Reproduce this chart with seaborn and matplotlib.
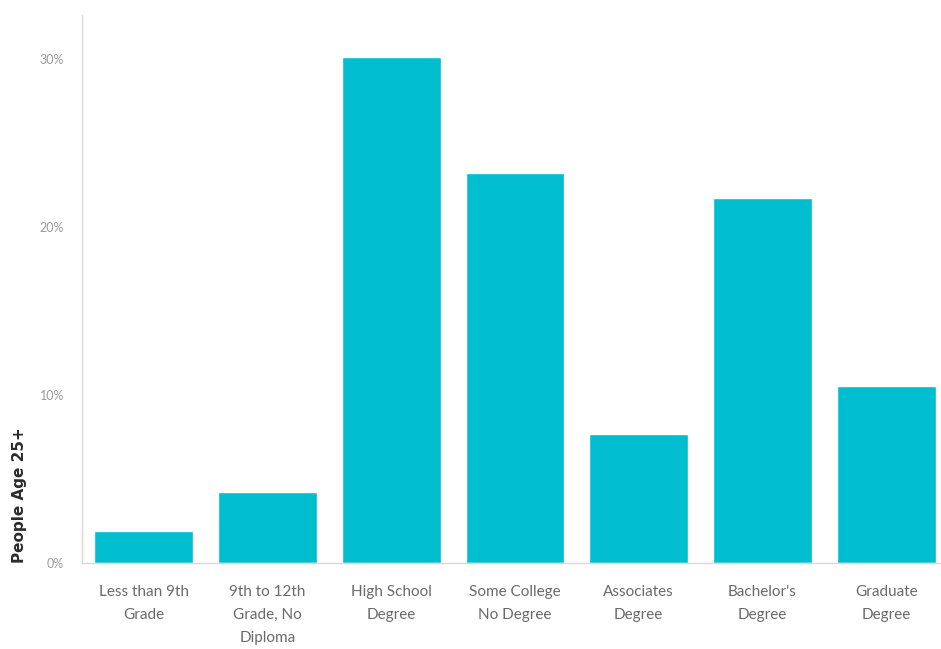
import matplotlib
matplotlib.use("Agg")
import matplotlib.pyplot as plt
import seaborn as sns
import pandas as pd

categories = [
    "Less than 9th\nGrade",
    "9th to 12th\nGrade, No\nDiploma",
    "High School\nDegree",
    "Some College\nNo Degree",
    "Associates\nDegree",
    "Bachelor's\nDegree",
    "Graduate\nDegree",
]
shares = [1.9, 4.2, 30.1, 23.2, 7.7, 21.7, 10.5]
tick_values = [0, 10, 20, 30]
tick_labels = ["0%", "10%", "20%", "30%"]

sns.set_theme(style="white")
plt.rcParams["font.family"] = ["Lato", "DejaVu Sans"]

df = pd.DataFrame({"category": categories, "share": shares})

fig = plt.figure(figsize=(9.41, 6.49), dpi=100)
W, H = 941, 649
x0, x1 = 82, 948
y0, y1 = 563, 15
ax = fig.add_axes([x0 / W, 1 - y0 / H, (x1 - x0) / W, (y0 - y1) / H])

sns.barplot(data=df, x="category", y="share", color="#00BDCF",
            saturation=1, width=0.8, ax=ax)

ax.set_xlim(-0.5, 6.5)
ax.set_ylim(0, 32.6)
ax.set_yticks(tick_values)
ax.set_yticklabels(tick_labels, color="#9a9a9a", fontsize=9)
ax.tick_params(axis="y", direction="in", length=3, color="#c8c8c8", pad=13)
ax.tick_params(axis="x", length=0, pad=16, labelsize=11, labelcolor="#6a6a6a")
for lab in ax.get_xticklabels():
    lab.set_linespacing(1.8)
    lab.set_va("top")

for side in ("top", "right"):
    ax.spines[side].set_visible(False)
for side in ("left", "bottom"):
    ax.spines[side].set_color("#d9d9d9")
    ax.spines[side].set_linewidth(1.0)

ax.set_xlabel("")
ax.set_ylabel("People Age 25+", fontsize=11, fontweight="bold",
              color="#2b2b2b", loc="bottom", family="DejaVu Sans")
ax.yaxis.set_label_coords((27 - x0) / (x1 - x0), 0)

fig.savefig("out.png", dpi=100)
